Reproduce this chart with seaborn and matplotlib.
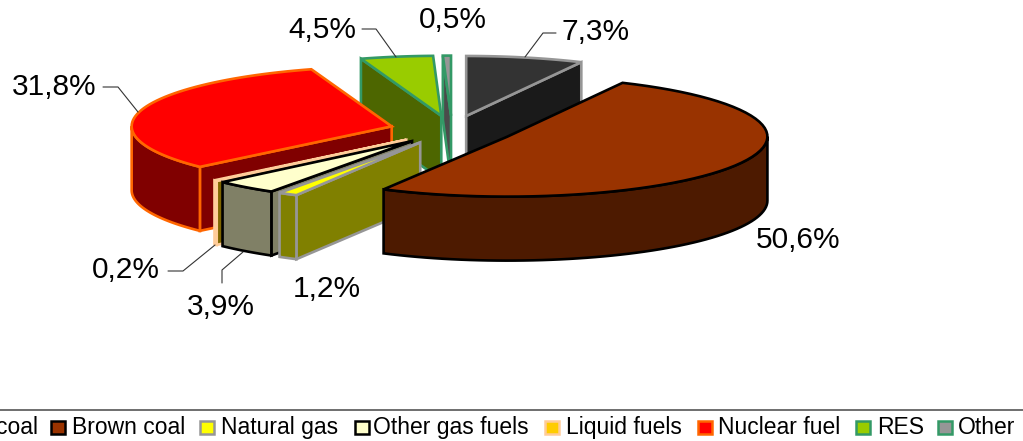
import matplotlib.pyplot as plt
import numpy as np
import seaborn as sns
from matplotlib.patches import Polygon, Rectangle

fuels = ['Hard coal', 'Brown coal', 'Natural gas', 'Other gas fuels',
         'Liquid fuels', 'Nuclear fuel', 'RES', 'Other']
shares = [7.3, 50.6, 1.2, 3.9, 0.2, 31.8, 4.5, 0.5]
share_labels = ['7,3%', '50,6%', '1,2%', '3,9%', '0,2%', '31,8%', '4,5%', '0,5%']

top_colors = ['#333333', '#993300', '#ffff00', '#ffffcc',
              '#ffcc00', '#ff0000', '#99cc00', '#969696']
side_colors = ['#1a1a1a', '#4d1a00', '#808000', '#808066',
               '#806600', '#800000', '#4d6600', '#4b4b4b']
edge_colors = ['#969696', '#000000', '#969696', '#000000',
               '#ffcc99', '#ff6600', '#339966', '#339966']

# layout, in pixels of the 1023x441 picture
cx, cy = 452, 130
rx, ry = 260, 60
depth = 64
explode = 0.24
draw_order = ['Hard coal', 'RES', 'Other', 'Nuclear fuel', 'Liquid fuels',
              'Other gas fuels', 'Natural gas', 'Brown coal']
label_pos = [(596, 32), (798, 240), (327, 289), (221, 307),
             (126, 270), (54, 87), (322, 30), (453, 20)]
leaders = {'Hard coal': [(525, 57), (543, 33), (556, 33)],
           'RES': [(396, 57), (376, 29), (362, 29)],
           'Nuclear fuel': [(138, 112), (118, 87), (103, 87)],
           'Liquid fuels': [(215, 245), (183, 271), (168, 271)],
           'Other gas fuels': [(243, 252), (222, 270), (222, 283)]}
swatch_x = [-22, 51, 200, 355, 545, 698, 856, 938]
text_x = [38, 72, 221, 373, 566, 718, 877, 958]

sns.set_theme(style='white')
plt.rcParams['font.family'] = ['Liberation Sans', 'DejaVu Sans']

fig, ax = plt.subplots(figsize=(10.23, 4.41), dpi=100)
fig.subplots_adjust(0, 0, 1, 1)
ax.set_xlim(0, 1023)
ax.set_ylim(441, 0)
ax.axis('off')


def rim(tip, theta):
    t = np.radians(theta)
    return np.column_stack([tip[0] + rx * np.sin(t), tip[1] - ry * np.cos(t)])


def draw_wedge(start, end, top, side, edge):
    mid = np.radians((start + end) / 2)
    tip = (cx + explode * rx * np.sin(mid), cy - explode * ry * np.cos(mid))
    drop = np.array([0, depth])
    kw = dict(edgecolor=edge, linewidth=1.9, joinstyle='miter')
    # radial faces that look towards the viewer
    if np.sin(np.radians(start)) < 0:
        p = rim(tip, [start])[0]
        ax.add_patch(Polygon([tip, p, p + drop, tip + drop], facecolor=side, **kw))
    if np.sin(np.radians(end)) > 0:
        p = rim(tip, [end])[0]
        ax.add_patch(Polygon([tip, p, p + drop, tip + drop], facecolor=side, **kw))
    # outer wall, only its front part
    lo, hi = max(start, 90), min(end, 270)
    if lo < hi:
        arc = rim(tip, np.linspace(lo, hi, 60))
        ax.add_patch(Polygon(np.vstack([arc, (arc + drop)[::-1]]), facecolor=side, **kw))
    arc = rim(tip, np.linspace(start, end, 60))
    ax.add_patch(Polygon(np.vstack([[tip], arc]), facecolor=top, **kw))


ends = np.cumsum(shares) * 3.6
starts = ends - np.array(shares) * 3.6
for name in draw_order:
    i = fuels.index(name)
    draw_wedge(starts[i], ends[i], top_colors[i], side_colors[i], edge_colors[i])

for name, pts in leaders.items():
    xs, ys = zip(*pts)
    ax.plot(xs, ys, color='#333333', lw=0.8)

for lab, (x, y) in zip(share_labels, label_pos):
    ax.text(x, y, lab, ha='center', va='center', fontsize=21.5, color='black')

# legend strip along the bottom, it runs off the left edge like the original
ax.plot([0, 1023], [410, 410], color='#555555', lw=1.2)
for i, name in enumerate(fuels):
    ax.add_patch(Rectangle((swatch_x[i], 421), 14, 12.5, facecolor=top_colors[i],
                           edgecolor=edge_colors[i], linewidth=1.8))
    ha = 'right' if i == 0 else 'left'
    ax.text(text_x[i], 427.5, name, ha=ha, va='center', fontsize=16.5, color='black')

fig.savefig('out.png', dpi=100)
